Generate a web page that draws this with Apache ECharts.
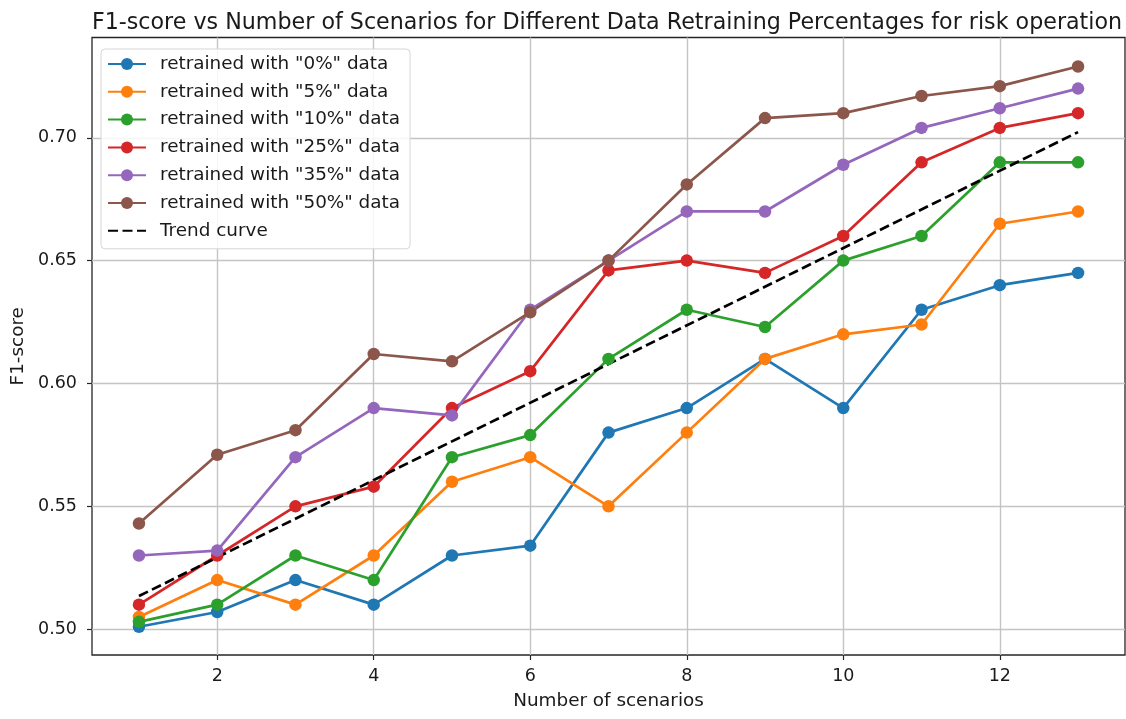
<!DOCTYPE html>
<html>
<head>
<meta charset="utf-8">
<script src="https://cdn.jsdelivr.net/npm/echarts@6/dist/echarts.min.js"></script>
<style>
  html, body { margin: 0; padding: 0; background: #fff; }
  #chart { width: 1126px; height: 719px; }
</style>
</head>
<body>
<div id="chart"></div>
<script>
// Number of scenarios on the x axis
const scenarios = [1, 2, 3, 4, 5, 6, 7, 8, 9, 10, 11, 12, 13];

// F1-score per retraining percentage
const f1_0  = [0.501, 0.507, 0.520, 0.510, 0.530, 0.534, 0.580, 0.590, 0.610, 0.590, 0.630, 0.640, 0.645];
const f1_5  = [0.505, 0.520, 0.510, 0.530, 0.560, 0.570, 0.550, 0.580, 0.610, 0.620, 0.624, 0.665, 0.670];
const f1_10 = [0.503, 0.510, 0.530, 0.520, 0.570, 0.579, 0.610, 0.630, 0.623, 0.650, 0.660, 0.690, 0.690];
const f1_25 = [0.510, 0.530, 0.550, 0.558, 0.590, 0.605, 0.646, 0.650, 0.645, 0.660, 0.690, 0.704, 0.710];
const f1_35 = [0.530, 0.532, 0.570, 0.590, 0.587, 0.630, 0.650, 0.670, 0.670, 0.689, 0.704, 0.712, 0.720];
const f1_50 = [0.543, 0.571, 0.581, 0.612, 0.609, 0.629, 0.650, 0.681, 0.708, 0.710, 0.717, 0.721, 0.729];

// Straight trend line, given by its two end points
const trendX = [1, 13];
const trendY = [0.5135, 0.7023];

// Tick values
const xTicks = [2, 4, 6, 8, 10, 12];
const yTicks = [0.50, 0.55, 0.60, 0.65, 0.70];

const seriesNames = [
  'retrained with "0%" data',
  'retrained with "5%" data',
  'retrained with "10%" data',
  'retrained with "25%" data',
  'retrained with "35%" data',
  'retrained with "50%" data'
];
const seriesValues = [f1_0, f1_5, f1_10, f1_25, f1_35, f1_50];
const colors = ['#1f77b4', '#ff7f0e', '#2ca02c', '#d62728', '#9467bd', '#8c564b'];

const FONT = 'DejaVu Sans';

const pairs = (xs, ys) => xs.map((x, i) => [x, ys[i]]);

const series = seriesNames.map((name, i) => ({
  name: name,
  type: 'line',
  data: pairs(scenarios, seriesValues[i]),
  symbol: 'circle',
  symbolSize: 12.5,
  showSymbol: true,
  color: colors[i],
  lineStyle: { width: 2.7, color: colors[i] },
  itemStyle: { color: colors[i] },
  emphasis: { disabled: true },
  animation: false
}));

series.push({
  name: 'Trend curve',
  type: 'line',
  data: pairs(trendX, trendY),
  symbol: 'circle',
  showSymbol: false,
  color: '#000',
  lineStyle: { width: 2.7, color: '#000', type: [10, 4.5] },
  itemStyle: { color: '#000' },
  emphasis: { disabled: true },
  animation: false
});

const chart = echarts.init(document.getElementById('chart'), null, { renderer: 'canvas' });

chart.setOption({
  backgroundColor: '#fff',
  animation: false,
  title: {
    text: 'F1-score vs Number of Scenarios for Different Data Retraining Percentages for risk operation',
    left: 602,
    textAlign: 'center',
    top: 7,
    textStyle: { fontFamily: FONT, fontSize: 22.2, fontWeight: 'normal', color: '#1a1a1a' }
  },
  legend: {
    orient: 'vertical',
    left: 101,
    top: 49,
    padding: [6, 10, 9, 6],
    itemWidth: 38,
    itemHeight: 15,
    itemGap: 9.8,
    backgroundColor: 'rgba(255,255,255,0.85)',
    borderColor: '#d6d6d6',
    borderWidth: 1,
    borderRadius: 4,
    textStyle: { fontFamily: FONT, fontSize: 18.4, color: '#1a1a1a', padding: [0, 0, 0, 9] },
    data: seriesNames.map(n => ({ name: n })).concat([
      { name: 'Trend curve', itemStyle: { opacity: 0 } }
    ])
  },
  grid: {
    left: 92, right: 1, top: 37.5, bottom: 64,
    show: true,
    borderColor: '#262626',
    borderWidth: 1.3,
    backgroundColor: 'transparent'
  },
  xAxis: {
    type: 'value',
    min: 0.4,
    max: 13.6,
    name: 'Number of scenarios',
    nameLocation: 'middle',
    nameGap: 37,
    nameTextStyle: { fontFamily: FONT, fontSize: 18.4, color: '#1a1a1a' },
    axisLine: { show: false },
    axisTick: { show: true, inside: false, length: 5, customValues: xTicks, lineStyle: { color: '#262626', width: 1.2 } },
    axisLabel: { customValues: xTicks, margin: 12, fontFamily: FONT, fontSize: 17.5, color: '#1a1a1a' },
    splitLine: { show: true, lineStyle: { color: '#c4c4c4', width: 1.4 } }
  },
  yAxis: {
    type: 'value',
    min: 0.4895,
    max: 0.7408,
    name: 'F1-score',
    nameLocation: 'middle',
    nameRotate: 90,
    nameGap: 63,
    nameTextStyle: { fontFamily: FONT, fontSize: 18.4, color: '#1a1a1a' },
    axisLine: { show: false },
    axisTick: { show: true, inside: false, length: 5, customValues: yTicks, lineStyle: { color: '#262626', width: 1.2 } },
    axisLabel: { customValues: yTicks, margin: 15, fontFamily: FONT, fontSize: 17.5, color: '#1a1a1a',
                 formatter: v => v.toFixed(2) },
    splitLine: { show: true, lineStyle: { color: '#c4c4c4', width: 1.4 } }
  },
  series: series
});
</script>
</body>
</html>
